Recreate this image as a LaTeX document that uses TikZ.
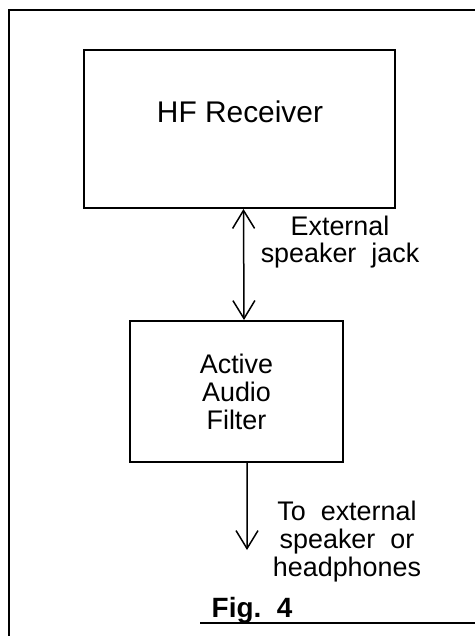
\documentclass[tikz,border=0pt]{standalone}
\usepackage{fontspec}
\setmainfont{Liberation Sans}
\usetikzlibrary{arrows.meta}
\tikzset{
  blk/.style={draw, line width=2bp, inner sep=0pt},
  lbl/.style={align=center, font=\fontsize{27}{28}\selectfont},
  sig/.style={line width=1.5bp},
}
\begin{document}
\begin{tikzpicture}[x=1bp,y=-1bp,>={Straight Barb[length=18bp,width=22bp]}]
\useasboundingbox (0,0) rectangle (475,636);
\draw[line width=2.2bp] (475,10) -- (9,10) -- (9,636);
\draw[line width=2.2bp] (200,623) -- (475,623);
\node[blk, minimum width=311bp, minimum height=158bp] (rx) at (239.5,129) {};
\node[font=\fontsize{30}{32}\selectfont] (rxname) at (240,112) {HF Receiver};
\node[blk, lbl, minimum width=213bp, minimum height=141bp] (af) at (236.5,391.5) {Active\\Audio\\Filter};
\node[lbl] (jack) at (340,242) {External\\speaker~~jack};
\node[lbl] (dest) at (347,541.5) {To~~external\\speaker~~or\\headphones};
\node[font=\fontsize{28}{30}\selectfont\bfseries] (fig) at (252,610) {Fig.~~4};
\coordinate (spk) at (247,550);
\draw[sig,<->] ([xshift=4bp]rx.south) -- ([xshift=7.5bp]af.north);
\draw[sig,->] ([xshift=10.5bp]af.south) -- (spk);
\end{tikzpicture}
\end{document}
